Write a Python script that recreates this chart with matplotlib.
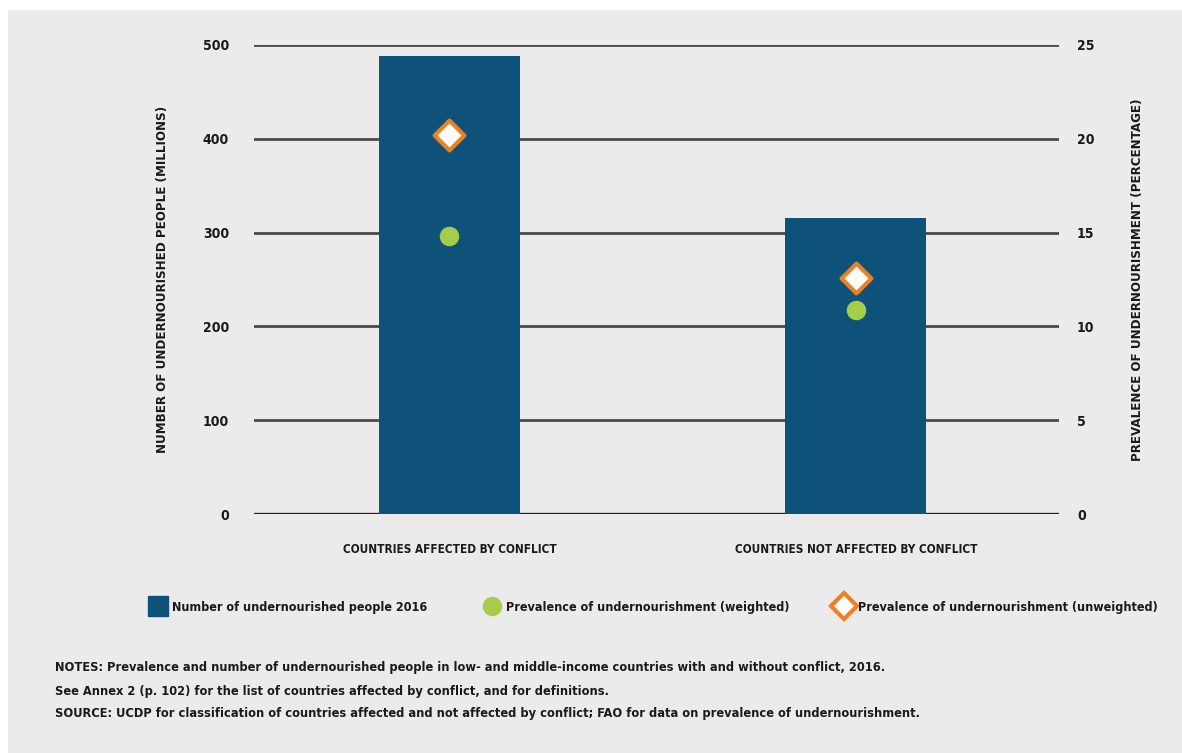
import matplotlib.pyplot as plt
from matplotlib.patches import Rectangle
from matplotlib.lines import Line2D

categories = ['COUNTRIES AFFECTED BY CONFLICT', 'COUNTRIES NOT AFFECTED BY CONFLICT']
undernourished = [488, 316]          # millions
pou_weighted = [14.8, 10.9]          # percent
pou_unweighted = [20.2, 12.6]        # percent
left_ticks = [0, 100, 200, 300, 400, 500]
right_ticks = [0, 5, 10, 15, 20, 25]

bar_color = '#0f5279'
green = '#a5cd4a'
orange = '#f07f1f'
bg = '#ebebeb'
txt = '#1a1a1a'

plt.rcParams['font.family'] = ['DejaVu Sans']
plt.rcParams['font.stretch'] = 'condensed'

W, H = 1182, 753
fig = plt.figure(figsize=(W / 100, H / 100), dpi=100, facecolor='white')
fig.patches.append(Rectangle((8 / W, 0), 1, 1 - 10 / H, transform=fig.transFigure,
                             facecolor=bg, edgecolor='none', zorder=-10))

ax = fig.add_axes([254 / W, 1 - 514 / H, (1059 - 254) / W, (514 - 45) / H])
ax.set_facecolor('none')
x = list(range(len(categories)))
ax.set_xlim(-0.481, 1.5)
ax.set_ylim(0, 500)
for t in left_ticks:
    ax.axhline(t, color='#222222' if t == 0 else '#4a4a4a', lw=2.4 if t == 0 else 2, zorder=1)
ax.bar(x, undernourished, width=0.347, color=bar_color, zorder=2)
ax.set_yticks(left_ticks)
ax.set_xticks(x)
ax.set_xticklabels(categories, fontsize=8.5, fontweight='bold', color=txt)
ax.tick_params(axis='x', length=0, pad=21)
ax.tick_params(axis='y', length=0, pad=18, labelsize=10, labelcolor=txt)
for lab in ax.get_yticklabels():
    lab.set_fontweight('bold')
for s in ax.spines.values():
    s.set_visible(False)
ax.set_ylabel('NUMBER OF UNDERNOURISHED PEOPLE (MILLIONS)', fontsize=9.5,
              fontweight='bold', color=txt, labelpad=24)

ax2 = ax.twinx()
ax2.set_ylim(0, 25)
ax2.set_yticks(right_ticks)
ax2.tick_params(axis='y', length=0, pad=13, labelsize=10, labelcolor=txt)
for lab in ax2.get_yticklabels():
    lab.set_fontweight('bold')
for s in ax2.spines.values():
    s.set_visible(False)
ax2.scatter(x, pou_weighted, s=170, color=green, zorder=3)
ax2.scatter(x, pou_unweighted, s=230, marker='D', facecolor='white',
            edgecolor=orange, linewidth=3, zorder=4)
ax2.set_ylabel('PREVALENCE OF UNDERNOURISHMENT (PERCENTAGE)', fontsize=9.5,
               fontweight='bold', color=txt, labelpad=26)

handles = [
    Line2D([], [], marker='s', linestyle='none', markersize=14, color=bar_color),
    Line2D([], [], marker='o', linestyle='none', markersize=13, color=green),
    Line2D([], [], marker='D', linestyle='none', markersize=13, markerfacecolor='white',
           markeredgecolor=orange, markeredgewidth=3),
]
labels = ['Number of undernourished people 2016',
          'Prevalence of undernourishment (weighted)',
          'Prevalence of undernourishment (unweighted)']
leg_x = [150, 484, 836]
for h, lab, lx in zip(handles, labels, leg_x):
    leg = fig.legend([h], [lab], loc='center left', bbox_to_anchor=(lx / W, 1 - 607 / H),
                     frameon=False, fontsize=9, handletextpad=0.6, handlelength=1.2,
                     borderaxespad=0, borderpad=0)
    for t in leg.get_texts():
        t.set_fontweight('bold')
        t.set_color(txt)

notes = ['NOTES: Prevalence and number of undernourished people in low- and middle-income countries with and without conflict, 2016.',
         'See Annex 2 (p. 102) for the list of countries affected by conflict, and for definitions.',
         'SOURCE: UCDP for classification of countries affected and not affected by conflict; FAO for data on prevalence of undernourishment.']
for i, line in enumerate(notes):
    fig.text(55 / W, 1 - (668 + 23 * i) / H, line, fontsize=9.2, fontweight='bold',
             color=txt, va='center', ha='left')

fig.savefig('out.png', dpi=100, facecolor=fig.get_facecolor())
